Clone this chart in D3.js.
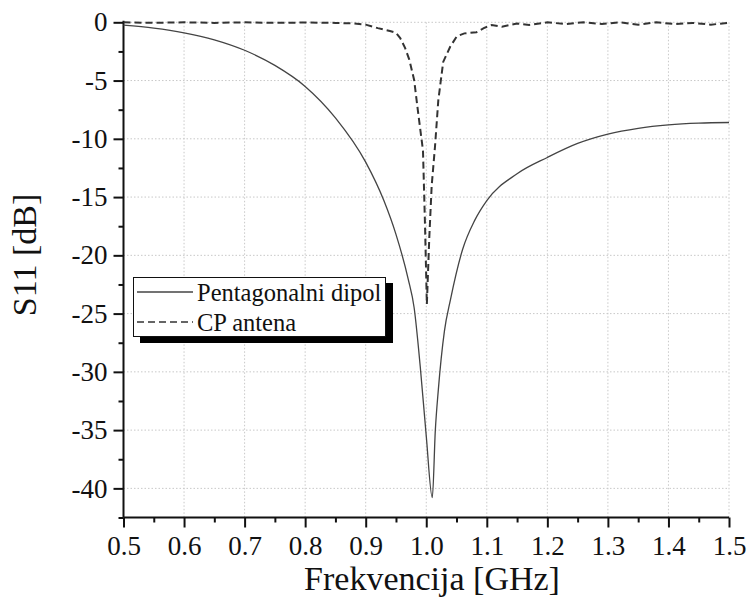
<!DOCTYPE html>
<html>
<head>
<meta charset="utf-8">
<script src="https://cdn.jsdelivr.net/npm/d3@7"></script>
<style>
  html, body { margin: 0; padding: 0; background: #fff; }
  svg text { font-family: "Liberation Serif", "Times New Roman", serif; fill: #111; }
</style>
</head>
<body>
<svg id="chart" width="748" height="607"></svg>
<script>
// ---- data ----
const dipolFreq = [0.5, 0.55, 0.6, 0.65, 0.7, 0.75, 0.8, 0.85, 0.9, 0.93, 0.95, 0.97, 0.98, 0.99, 1.0, 1.01, 1.015, 1.02, 1.03, 1.04, 1.06, 1.08, 1.1, 1.15, 1.2, 1.25, 1.3, 1.35, 1.4, 1.45, 1.5];
const dipolS11 = [-0.25, -0.5, -0.9, -1.5, -2.4, -3.7, -5.5, -8.2, -12, -15.3, -18.2, -22, -24.5, -29.5, -35.5, -40.8, -35, -31.5, -26.5, -23.8, -19.5, -17, -15.3, -13, -11.6, -10.4, -9.6, -9.1, -8.8, -8.65, -8.6];

const cpFreq = [0.5, 0.55, 0.6, 0.65, 0.7, 0.75, 0.8, 0.85, 0.88, 0.9, 0.92, 0.94, 0.95, 0.957, 0.965, 0.972, 0.98, 0.986, 0.9946, 0.998, 1.001, 1.005, 1.009, 1.0144, 1.0199, 1.028, 1.0395, 1.0505, 1.063, 1.083, 1.095, 1.108, 1.125, 1.15, 1.17, 1.2, 1.23, 1.26, 1.29, 1.32, 1.35, 1.38, 1.41, 1.44, 1.47, 1.5];
const cpS11 = [0, -0.05, 0, -0.05, 0, -0.05, -0.02, -0.05, -0.1, -0.2, -0.5, -0.75, -0.9, -1.35, -2.2, -3.2, -4.95, -7.5, -11, -17.5, -24.2, -18.5, -14, -10.7, -6.7, -3.4, -2.1, -1.2, -0.95, -0.85, -0.5, -0.23, -0.38, -0.1, -0.23, 0, -0.15, 0, -0.15, 0, -0.2, 0, -0.15, -0.05, -0.2, -0.05];

const xTicks = [0.5, 0.6, 0.7, 0.8, 0.9, 1.0, 1.1, 1.2, 1.3, 1.4, 1.5];
const yTicks = [0, -5, -10, -15, -20, -25, -30, -35, -40];
const seriesNames = ["Pentagonalni dipol", "CP antena"];
const xTitle = "Frekvencija [GHz]";
const yTitle = "S11 [dB]";

// ---- layout ----
const svg = d3.select("#chart");
const pL = 123.5, pR = 729, pT = 22.3, pB = 517.5;
const x = d3.scaleLinear().domain([0.5, 1.5]).range([pL, pR]);
const y = d3.scaleLinear().domain([0, -42.5]).range([pT, pB]);

// grid
const grid = svg.append("g").attr("stroke", "#c8c8c8").attr("stroke-width", 1).attr("stroke-dasharray", "1.5,2");
grid.selectAll("line.v").data(xTicks.slice(1)).join("line").attr("class", "v")
  .attr("x1", d => x(d)).attr("x2", d => x(d)).attr("y1", pT).attr("y2", pB);
grid.selectAll("line.h").data(yTicks).join("line").attr("class", "h")
  .attr("y1", d => y(d)).attr("y2", d => y(d)).attr("x1", pL).attr("x2", pR);

// minor ticks
const xMinor = d3.range(0, 10).map(i => 0.55 + i * 0.1);
const yMinor = d3.range(0, 9).map(i => -2.5 - i * 5);

const xAxis = svg.append("g").attr("transform", `translate(0,${pB})`)
  .call(d3.axisBottom(x).tickValues(xTicks).tickFormat(d3.format(".1f")).tickSize(10).tickPadding(8));
svg.append("g").attr("transform", `translate(0,${pB})`)
  .call(d3.axisBottom(x).tickValues(xMinor).tickFormat("").tickSize(5))
  .call(g => g.select(".domain").remove());

const yAxis = svg.append("g").attr("transform", `translate(${pL},0)`)
  .call(d3.axisLeft(y).tickValues(yTicks).tickFormat(d3.format("d")).tickSize(10).tickPadding(6));
svg.append("g").attr("transform", `translate(${pL},0)`)
  .call(d3.axisLeft(y).tickValues(yMinor).tickFormat("").tickSize(5))
  .call(g => g.select(".domain").remove());

svg.selectAll(".tick line").attr("stroke", "#111").attr("stroke-width", 2);
svg.selectAll(".domain").attr("stroke", "#111").attr("stroke-width", 2);
xAxis.select(".domain").attr("d", `M${pL},0H${pR}`);
yAxis.select(".domain").attr("d", `M0,${pT - 1.5}V${pB}`);
svg.selectAll(".tick text").attr("font-size", 27).attr("fill", "#111");
xAxis.selectAll(".tick text").attr("dy", "0.74em");
yAxis.selectAll(".tick text").text(d => d === 0 ? "0" : "-" + Math.abs(d));

// lines
const lineGen = d3.line().x(d => x(d[0])).y(d => y(d[1]));
svg.append("path")
  .datum(dipolFreq.map((f, i) => [f, dipolS11[i]]))
  .attr("fill", "none").attr("stroke", "#444").attr("stroke-width", 1.3)
  .attr("d", d3.line().x(d => x(d[0])).y(d => y(d[1])).curve(d3.curveMonotoneX));
svg.append("path")
  .datum(cpFreq.map((f, i) => [f, cpS11[i]]))
  .attr("fill", "none").attr("stroke", "#333").attr("stroke-width", 2).attr("stroke-dasharray", "7,4")
  .attr("d", lineGen);

// titles
svg.append("text").attr("x", 432).attr("y", 590).attr("text-anchor", "middle")
  .attr("font-size", 34).text(xTitle);
svg.append("text").attr("transform", "translate(36,255) rotate(-90)").attr("text-anchor", "middle")
  .attr("font-size", 34).text(yTitle);

// legend
const lg = svg.append("g");
lg.append("rect").attr("x", 140).attr("y", 283).attr("width", 253).attr("height", 60).attr("fill", "#000");
lg.append("rect").attr("x", 133.5).attr("y", 277.5).attr("width", 252).attr("height", 59)
  .attr("fill", "#fff").attr("stroke", "#111").attr("stroke-width", 1);
lg.append("line").attr("x1", 137).attr("x2", 193).attr("y1", 292).attr("y2", 292)
  .attr("stroke", "#444").attr("stroke-width", 1.3);
lg.append("line").attr("x1", 137).attr("x2", 193).attr("y1", 322).attr("y2", 322)
  .attr("stroke", "#333").attr("stroke-width", 1.5).attr("stroke-dasharray", "7,4");
lg.selectAll("text.leg").data(seriesNames).join("text").attr("class", "leg")
  .attr("x", 197).attr("y", (d, i) => 301 + i * 30).attr("font-size", 24.5).text(d => d);
</script>
</body>
</html>
